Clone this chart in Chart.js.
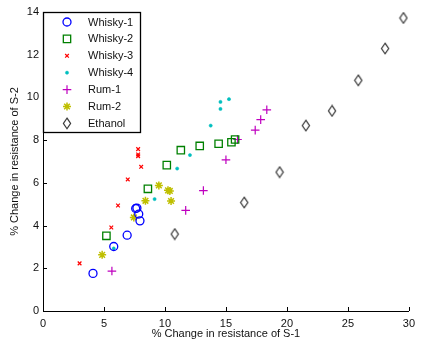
<!DOCTYPE html>
<html>
<head>
<meta charset="utf-8">
<script src="https://cdn.jsdelivr.net/npm/chart.js@4.4.1/dist/chart.umd.min.js"></script>
<style>
  html, body { margin: 0; padding: 0; background: #fff; }
  #wrap { width: 421px; height: 344px; position: relative; }
</style>
</head>
<body>
<div id="wrap"><canvas id="chart"></canvas></div>
<script>
// data (x = S-1 change %, y = S-2 change %)
const whisky1X = [4.1, 5.8, 6.9, 7.6, 7.7, 7.85, 7.95];
const whisky1Y = [1.76, 3.02, 3.55, 4.8, 4.82, 4.54, 4.22];
const whisky2X = [5.2, 8.6, 10.15, 11.3, 12.85, 14.4, 15.45, 15.75];
const whisky2Y = [3.52, 5.72, 6.83, 7.53, 7.73, 7.83, 7.9, 8.03];
const whisky3X = [3.0, 5.6, 6.15, 6.95, 7.8, 7.8, 7.8, 8.05];
const whisky3Y = [2.23, 3.91, 4.94, 6.16, 7.25, 7.33, 7.58, 6.75];
const whisky4X = [5.8, 9.15, 11.0, 12.05, 13.75, 14.55, 14.55, 15.25];
const whisky4Y = [2.93, 5.24, 6.67, 7.3, 8.68, 9.46, 9.79, 9.92];
const rum1X = [5.65, 11.7, 13.15, 15.0, 15.95, 17.4, 17.85, 18.35];
const rum1Y = [1.87, 4.71, 5.64, 7.08, 8.03, 8.47, 8.96, 9.42];
const rum2X = [4.85, 7.45, 8.4, 9.5, 10.25, 10.4, 10.5];
const rum2Y = [2.63, 4.38, 5.16, 5.88, 5.65, 5.62, 5.15];
const ethanolX = [10.8, 16.5, 19.4, 21.55, 23.7, 25.85, 28.05, 29.55];
const ethanolY = [3.6, 5.08, 6.5, 8.68, 9.37, 10.8, 12.29, 13.72];

const seriesNames = ["Whisky-1", "Whisky-2", "Whisky-3", "Whisky-4", "Rum-1", "Rum-2", "Ethanol"];
const xTicks = [0, 5, 10, 15, 20, 25, 30];
const yTicks = [0, 2, 4, 6, 8, 10, 12, 14];

function pairs(xs, ys) {
  return xs.map(function (x, i) { return { x: x, y: ys[i] }; });
}

// diamond taller than wide, like matlab 'd'
const diamond = document.createElement("canvas");
diamond.width = 10;
diamond.height = 13;
(function () {
  const c = diamond.getContext("2d");
  c.strokeStyle = "#333";
  c.lineWidth = 1.2;
  c.beginPath();
  c.moveTo(5, 1.2);
  c.lineTo(8.6, 6.5);
  c.lineTo(5, 11.8);
  c.lineTo(1.4, 6.5);
  c.closePath();
  c.stroke();
})();

const styles = [
  { color: "#0000ff", pointStyle: "circle", radius: 4, width: 1.3, fill: "rgba(0,0,0,0)" },
  { color: "#008000", pointStyle: "rect", radius: 5.2, width: 1.3, fill: "rgba(0,0,0,0)" },
  { color: "#ff0000", pointStyle: "crossRot", radius: 2.6, width: 1.2, fill: "rgba(0,0,0,0)" },
  { color: "#00bfbf", pointStyle: "circle", radius: 1.6, width: 0.5, fill: "#00bfbf" },
  { color: "#bf00bf", pointStyle: "cross", radius: 4.3, width: 1.2, fill: "rgba(0,0,0,0)" },
  { color: "#bfbf00", pointStyle: "star", radius: 4, width: 1.5, fill: "rgba(0,0,0,0)" },
  { color: "#333333", pointStyle: diamond, radius: 5, width: 1.2, fill: "rgba(0,0,0,0)" }
];

const allData = [
  pairs(whisky1X, whisky1Y),
  pairs(whisky2X, whisky2Y),
  pairs(whisky3X, whisky3Y),
  pairs(whisky4X, whisky4Y),
  pairs(rum1X, rum1Y),
  pairs(rum2X, rum2Y),
  pairs(ethanolX, ethanolY)
];

const datasets = seriesNames.map(function (name, i) {
  const s = styles[i];
  return {
    label: name,
    data: allData[i],
    pointStyle: s.pointStyle,
    pointRadius: s.radius,
    pointBorderWidth: s.width,
    borderColor: s.color,
    backgroundColor: s.fill,
    pointHoverRadius: s.radius
  };
});

const FONT = "'Liberation Sans', Arial, sans-serif";

// ticks pointing into the plot (matlab style)
const inwardTicks = {
  id: "inwardTicks",
  afterDraw: function (chart) {
    const ctx = chart.ctx;
    const a = chart.chartArea;
    ctx.save();
    ctx.strokeStyle = "#000";
    ctx.lineWidth = 1;
    ctx.beginPath();
    xTicks.forEach(function (v) {
      const px = Math.round(chart.scales.x.getPixelForValue(v)) + 0.5;
      ctx.moveTo(px, a.bottom);
      ctx.lineTo(px, a.bottom - 4);
    });
    yTicks.forEach(function (v) {
      const py = Math.round(chart.scales.y.getPixelForValue(v)) + 0.5;
      ctx.moveTo(a.left, py);
      ctx.lineTo(a.left + 4, py);
    });
    ctx.stroke();
    ctx.restore();
  }
};

// legend box in the upper left corner of the axes
const boxLegend = {
  id: "boxLegend",
  afterDraw: function (chart) {
    const ctx = chart.ctx;
    const a = chart.chartArea;
    const x0 = a.left, y0 = a.top;
    const w = 97, h = 120;
    ctx.save();
    ctx.fillStyle = "#fff";
    ctx.fillRect(x0, y0, w, h);
    ctx.strokeStyle = "#000";
    ctx.lineWidth = 1.3;
    ctx.strokeRect(x0 + 0.5, y0 + 0.5, w, h);
    ctx.font = "11px " + FONT;
    ctx.textBaseline = "middle";
    ctx.textAlign = "left";
    seriesNames.forEach(function (name, i) {
      const s = styles[i];
      const cy = y0 + 10 + i * 16.9;
      const cx = x0 + 24;
      ctx.strokeStyle = s.color;
      ctx.fillStyle = s.fill;
      ctx.lineWidth = s.width;
      if (Chart.helpers && Chart.helpers.drawPoint) {
        Chart.helpers.drawPoint(ctx, { pointStyle: s.pointStyle, radius: s.radius, borderWidth: s.width, rotation: 0 }, cx, cy);
      }
      ctx.fillStyle = "#111";
      ctx.fillText(name, x0 + 45, cy + 0.5);
    });
    ctx.restore();
  }
};

new Chart(document.getElementById("chart"), {
  type: "scatter",
  data: { datasets: datasets },
  options: {
    responsive: true,
    maintainAspectRatio: false,
    animation: false,
    layout: { padding: { top: 12, right: 6, left: 0, bottom: 0 } },
    plugins: {
      legend: { display: false },
      tooltip: { enabled: false }
    },
    scales: {
      x: {
        type: "linear",
        min: 0,
        max: 30,
        afterBuildTicks: function (scale) {
          scale.ticks = xTicks.map(function (v) { return { value: v }; });
        },
        afterFit: function (scale) { scale.height = 33; },
        grid: { display: false, drawTicks: false },
        border: { display: true, color: "#000", width: 1 },
        ticks: { color: "#111", padding: 6, maxRotation: 0, font: { family: FONT, size: 11 } },
        title: {
          display: true,
          text: "% Change in resistance of S-1",
          color: "#111",
          padding: { top: 0, bottom: 3 },
          font: { family: FONT, size: 11 }
        }
      },
      y: {
        type: "linear",
        min: 0,
        max: 14,
        afterBuildTicks: function (scale) {
          scale.ticks = yTicks.map(function (v) { return { value: v }; });
        },
        afterFit: function (scale) { scale.width = 43; },
        grid: { display: false, drawTicks: false },
        border: { display: true, color: "#000", width: 1 },
        ticks: { color: "#111", padding: 4, font: { family: FONT, size: 11 } },
        title: {
          display: true,
          text: "% Change in resistance of S-2",
          color: "#111",
          padding: { top: 8, bottom: 0 },
          font: { family: FONT, size: 11 }
        }
      }
    }
  },
  plugins: [inwardTicks, boxLegend]
});
</script>
</body>
</html>
